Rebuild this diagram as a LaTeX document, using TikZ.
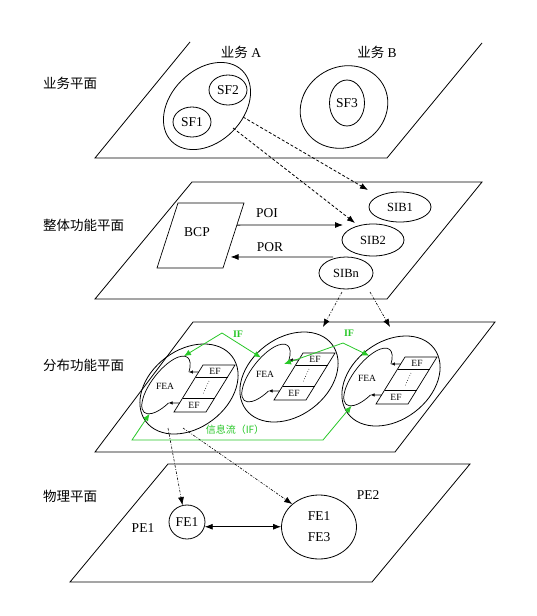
\documentclass[tikz,border=0pt]{standalone}
\usepackage{fontspec}
\setmainfont{Liberation Serif}
\newfontfamily\cjk{Noto Sans CJK SC}
\usetikzlibrary{shapes.geometric,arrows.meta,calc}
\definecolor{ifgreen}{RGB}{40,200,40}
\tikzset{
  base/.style={line width=0.7pt},
  plane/.style={draw, line width=0.8pt},
  planelabel/.style={anchor=west, font=\cjk\fontsize{13.5}{15}\selectfont, inner sep=0pt},
  lbl/.style={font=\fontsize{13.5}{16}\selectfont, inner sep=1pt},
  siblbl/.style={font=\fontsize{12.5}{15}\selectfont},
  efl/.style={font=\fontsize{9.5}{11}\selectfont, inner sep=0pt},
  oval/.style={draw, ellipse, inner sep=0pt, line width=0.8pt},
  bigoval/.style={draw, ellipse, line width=0.8pt, minimum width=108pt, minimum height=78pt, rotate=37},
  arr/.style={-{Latex[length=8pt,width=6pt]}, line width=0.8pt},
  dblarr/.style={{Latex[length=8pt,width=6pt]}-{Latex[length=8pt,width=6pt]}, line width=0.8pt},
  dasharr/.style={arr, dash pattern=on 3pt off 2pt},
  dotarr/.style={arr, line width=0.6pt, dash pattern=on 2.5pt off 1.5pt on 0.8pt off 1.5pt},
  tinyarr/.style={-{Latex[length=4pt,width=3.5pt]}, line width=0.6pt},
  ifflow/.style={draw=ifgreen, line width=0.8pt, {Latex[length=7pt,width=6pt]}-{Latex[length=7pt,width=6pt]}},
  iflabel/.style={text=ifgreen, font=\fontsize{10}{12}\selectfont\bfseries, inner sep=0pt},
}
\newcommand\fegroup[3]{%
\begin{scope}[shift={(#2,-#3)}]
  \node[bigoval] (#1) at (0,0) {};
  \begin{scope}[shift={(-23,4)}, rotate=52]
    \draw[base] (-46:35 and 14) arc[start angle=-46, end angle=249, x radius=35, y radius=14];
    \coordinate (#1-ua) at (-46:35 and 14);
    \coordinate (#1-la) at (249:35 and 14);
    \coordinate (#1-in15) at (15:35 and 14);
    \coordinate (#1-in60) at (60:35 and 14);
    \coordinate (#1-in75) at (75:35 and 14);
    \coordinate (#1-in200) at (200:35 and 14);
  \end{scope}
  \coordinate (#1-gr) at (-5,13);
  \coordinate (#1-s1) at (14,24);
  \coordinate (#1-s2) at (46,24);
  \coordinate (#1-s3) at (17,-23);
  \coordinate (#1-s4) at (-15,-23);
  \draw[base] (#1-s1) -- (#1-s2) -- (#1-s3) -- (#1-s4) -- cycle;
  \draw[base] ($(#1-s1)!12/47!(#1-s4)$) -- ($(#1-s2)!12/47!(#1-s3)$);
  \draw[base] ($(#1-s1)!33/47!(#1-s4)$) -- ($(#1-s2)!33/47!(#1-s3)$);
  \draw[line width=0.6pt, dotted] (20,8) -- (14,-5);
  \node[efl] (#1-ef1) at (26,18) {EF};
  \node[efl] (#1-ef2) at (5,-16) {EF};
  \node[efl] (#1-fea) at (-24,3) {FEA};
  \coordinate (#1-us) at ($(#1-s1)!7/47!(#1-s4)$);
  \coordinate (#1-ls) at ($(#1-s1)!38/47!(#1-s4)$);
  \draw[tinyarr] (#1-us) -- (#1-ua);
  \draw[tinyarr] (#1-ls) -- (#1-la);
\end{scope}}
\begin{document}
\begin{tikzpicture}[x=1pt,y=1pt]
\path[fill=white] (0,0) rectangle (536,-616);
% ---------- plane 1 ----------
\draw[plane] (190,-42) -- (95,-158) -- (387,-158) -- (482,-43);
\node[planelabel] (l1) at (43,-83) {业务平面};
\node[lbl] (sa) at (241,-52) {{\cjk 业务} A};
\node[lbl] (sb) at (377,-52) {{\cjk 业务} B};
\node[oval, rotate=45, minimum width=100pt, minimum height=72pt] (svcA) at (207,-106) {};
\node[oval, lbl, minimum width=38pt, minimum height=30pt] (sf2) at (228,-90) {SF2};
\node[oval, lbl, minimum width=38pt, minimum height=30pt] (sf1) at (192,-122) {SF1};
\node[oval, rotate=30, minimum width=90pt, minimum height=80pt] (svcB) at (344,-107) {};
\node[oval, lbl, minimum width=35pt, minimum height=46pt] (sf3) at (347,-103) {SF3};
% ---------- plane 2 ----------
\draw[plane] (192,-182) -- (482,-182) -- (387,-299) -- (95,-299) -- cycle;
\node[planelabel] (l2) at (43,-225) {整体功能平面};
\coordinate (b1) at (178,-203);
\coordinate (b2) at (244,-203);
\coordinate (b3) at (223,-268);
\coordinate (b4) at (157,-268);
\draw[base] (b1) -- (b2) -- (b3) -- (b4) -- cycle;
\node[lbl] (bcp) at (197,-232) {BCP};
\node[oval, siblbl, minimum width=62pt, minimum height=30pt] (sib1) at (400,-207) {SIB1};
\node[oval, siblbl, minimum width=62pt, minimum height=32pt] (sib2) at (373,-240) {SIB2};
\node[oval, siblbl, minimum width=54pt, minimum height=32pt] (sibn) at (346,-273) {SIBn};
\coordinate (poiS) at ($(b2)!0.34!(b3)$);
\coordinate (poiE) at (343,-225);
\draw[arr] (poiS) -- (poiE);
\node[lbl] (poi) at (267,-213) {POI};
\coordinate (porS) at (333,-257);
\coordinate (porE) at ($(b2)!0.83!(b3)$);
\draw[arr, shorten >=4pt] (porS) -- (porE);
\node[lbl] (por) at (270,-247) {POR};
% plane 1 -> plane 2
\coordinate (d1s) at (243,-117);
\coordinate (d1e) at (368,-190);
\coordinate (d2s) at (233,-128);
\coordinate (d2e) at (355,-223);
\draw[dasharr] (d1s) -- (d1e);
\draw[dasharr] (d2s) -- (d2e);
% ---------- plane 3 ----------
\draw[plane] (193,-322) -- (495,-322) -- (395,-452) -- (95,-452) -- cycle;
\node[planelabel] (l3) at (43,-365) {分布功能平面};
\fegroup{g1}{189}{389}
\fegroup{g2}{289}{377}
\fegroup{g3}{391}{381}
% plane 2 -> plane 3
\coordinate (e1s) at (342,-292);
\coordinate (e1e) at (323,-327);
\coordinate (e2s) at (370,-292);
\coordinate (e2e) at (390,-327);
\draw[dotarr] (e1s) -- (e1e);
\draw[dotarr] (e2s) -- (e2e);
% information flows
\coordinate (p1) at (222,-333);
\draw[ifflow] (g1-in15) -- (p1) -- (g2-in75);
\node[iflabel] (if1) at (238,-334) {IF};
\coordinate (p2) at (343,-343);
\draw[ifflow] (g2-gr) -- (p2) -- (g3-in60);
\node[iflabel] (if2) at (349,-333) {IF};
\coordinate (p3a) at (132,-440);
\coordinate (p3b) at (323,-440);
\draw[ifflow] (g1-in200) -- (p3a) -- (p3b) -- (g3-in200);
\node[iflabel, font=\cjk\fontsize{10}{12}\selectfont] (ifl) at (235,-430) {信息流（IF）};
% ---------- plane 4 ----------
\draw[plane] (168,-464) -- (470,-464) -- (372,-582) -- (70,-582) -- cycle;
\node[planelabel] (l4) at (43,-496) {物理平面};
\node[lbl] (pe1) at (143,-528) {PE1};
\node[lbl] (pe2) at (368,-495) {PE2};
\node[oval, lbl, minimum width=36pt, minimum height=34pt] (pfe1) at (187,-522) {FE1};
\node[oval, lbl, align=center, minimum width=75pt, minimum height=64pt, font=\fontsize{13.5}{21}\selectfont] (pfe2) at (319,-527) {FE1\\FE3};
\draw[dblarr] (pfe1.-15) -- (pfe1.-15 -| pfe2.west);
% plane 3 -> plane 4
\coordinate (f1s) at (168,-428);
\coordinate (f2s) at (183,-428);
\draw[dotarr] (f1s) -- (pfe1.105);
\draw[dotarr] (f2s) -- (pfe2.north west);
\end{tikzpicture}
\end{document}
